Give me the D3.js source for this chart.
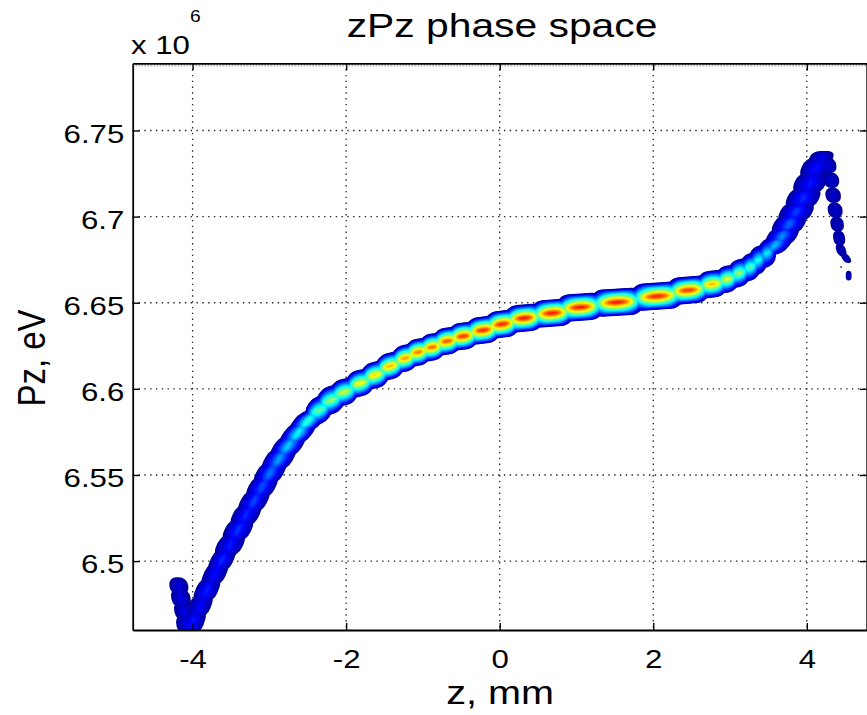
<!DOCTYPE html>
<html>
<head>
<meta charset="utf-8">
<script src="https://cdn.jsdelivr.net/npm/d3@7"></script>
<style>
  body { margin: 0; background: white; }
  text { font-family: "Liberation Sans", Arial, sans-serif; fill: black; }
</style>
</head>
<body>
<div id="canvas"></div>
<script>
"use strict"

/* DATA */
let xTicks = [-4, -2, 0, 2, 4];
let yTicks = [6.5, 6.55, 6.6, 6.65, 6.7, 6.75];
let yTickLabels = ["6.5", "6.55", "6.6", "6.65", "6.7", "6.75"];

// beam slices: z (mm), Pz (x10^6 eV), peak density (0..1 of colour map),
// half size in z (mm), half size in Pz (x10^6 eV), which piece of the beam
let sliceZ = [-4.087, -3.996, -3.905, -3.814, -3.709, -3.618, -3.514, -3.410, -3.306, -3.201,
  -3.097, -2.993, -2.876, -2.758, -2.628, -2.498, -2.354, -2.198, -2.029, -1.820,
  -1.625, -1.429, -1.234, -1.064, -0.882, -0.687, -0.478, -0.218, 0.030, 0.317,
  0.681, 1.046, 1.528, 2.050, 2.453, 2.766, 2.962, 3.118, 3.261, 3.366,
  3.483, 3.587, 3.678, 3.769, 3.861, 3.952, 4.043, 4.121, 4.186,
  4.278, 4.317, 4.343, 4.369, 4.395, 4.421, 4.447, 4.512,
  -4.179, -4.152, -4.113, -4.087, -4.061,
  4.545, 4.447];
let slicePz = [6.4541, 6.4646, 6.4739, 6.4832, 6.4925, 6.5006, 6.5093, 6.5180, 6.5267, 6.5348,
  6.5430, 6.5511, 6.5592, 6.5668, 6.5743, 6.5813, 6.5876, 6.5935, 6.5981, 6.6033,
  6.6080, 6.6132, 6.6178, 6.6213, 6.6242, 6.6277, 6.6306, 6.6341, 6.6376, 6.6411,
  6.6440, 6.6474, 6.6503, 6.6538, 6.6573, 6.6608, 6.6637, 6.6672, 6.6707, 6.6747,
  6.6788, 6.6834, 6.6886, 6.6956, 6.7026, 6.7107, 6.7194, 6.7281, 6.7339,
  6.7299, 6.7212, 6.7124, 6.7037, 6.6956, 6.6875, 6.6805, 6.6759,
  6.4855, 6.4785, 6.4710, 6.4634, 6.4553,
  6.6657, 6.6707];
let slicePeak = [0.14, 0.16, 0.14, 0.17, 0.15, 0.18, 0.16, 0.19, 0.18, 0.21,
  0.22, 0.26, 0.30, 0.35, 0.40, 0.45, 0.50, 0.55, 0.60, 0.65,
  0.68, 0.72, 0.75, 0.78, 0.80, 0.82, 0.85, 0.86, 0.87, 0.88,
  0.88, 0.88, 0.88, 0.87, 0.85, 0.72, 0.62, 0.55, 0.48, 0.42,
  0.38, 0.33, 0.28, 0.24, 0.20, 0.18, 0.16, 0.15, 0.12,
  0.10, 0.09, 0.08, 0.08, 0.07, 0.07, 0.06, 0.06,
  0.10, 0.11, 0.11, 0.11, 0.11,
  0.06, 0.05];
let sliceSz = [0.169, 0.169, 0.169, 0.169, 0.169, 0.169, 0.195, 0.195, 0.195, 0.195,
  0.195, 0.195, 0.200, 0.200, 0.200, 0.200, 0.182, 0.195, 0.195, 0.195,
  0.195, 0.195, 0.182, 0.182, 0.182, 0.195, 0.208, 0.235, 0.235, 0.261,
  0.287, 0.313, 0.352, 0.352, 0.287, 0.208, 0.156, 0.143, 0.130, 0.117,
  0.117, 0.200, 0.208, 0.221, 0.234, 0.234, 0.234, 0.221, 0.182,
  0.130, 0.130, 0.130, 0.124, 0.117, 0.104, 0.091, 0.078,
  0.150, 0.150, 0.150, 0.150, 0.150,
  0.046, 0.016];
let sliceSp = [0.0081, 0.0081, 0.0081, 0.0081, 0.0081, 0.0081, 0.0081, 0.0081, 0.0081, 0.0081,
  0.0081, 0.0081, 0.0081, 0.0075, 0.0075, 0.0070, 0.0087, 0.0087, 0.0081, 0.0081,
  0.0081, 0.0081, 0.0081, 0.0081, 0.0081, 0.0081, 0.0081, 0.0081, 0.0081, 0.0081,
  0.0081, 0.0081, 0.0081, 0.0081, 0.0081, 0.0081, 0.0081, 0.0084, 0.0084, 0.0087,
  0.0087, 0.0058, 0.0058, 0.0064, 0.0064, 0.0070, 0.0070, 0.0070, 0.0046,
  0.0052, 0.0052, 0.0052, 0.0052, 0.0052, 0.0052, 0.0046, 0.0035,
  0.0058, 0.0064, 0.0064, 0.0064, 0.0064,
  0.0041, 0.0007];
let slicePiece = ["main", "main", "main", "main", "main", "main", "main", "main", "main", "main",
  "main", "main", "main", "main", "main", "main", "main", "main", "main", "main",
  "main", "main", "main", "main", "main", "main", "main", "main", "main", "main",
  "main", "main", "main", "main", "main", "main", "main", "main", "main", "main",
  "main", "main", "main", "main", "main", "main", "main", "main", "main",
  "fall", "fall", "fall", "fall", "fall", "fall", "fall", "fall",
  "left", "left", "left", "left", "left",
  "blob", "dot"];

// jet colour map
let jetStops = [0, 0.125, 0.375, 0.625, 0.875, 1];
let jetColors = ["#00008f", "#0000ff", "#00ffff", "#ffff00", "#ff0000", "#800000"];


/* Configuration variables: drawing */
let svgWidth = 867;
let svgHeight = 715;

let plotLeft = 132.7;
let plotRight = 866.7;
let plotTop = 63.3;
let plotBottom = 630;

let textStretch = 1.2; // the picture's lettering is a bit wider than Arial
let flatShear = 0.4;   // slices lying along the band are nearly level
let steepShear = 0.8;
let alongPower = 0.5;  // shape of the density profile of a slice
let acrossPower = 0.9;
let cornerShare = 0.85; // outer contours are rounded blocks (stepped edge of binned density),
                        // inner contours turn into ellipses

let svg = d3.select("#canvas")
  .append("svg")
  .attr("width", svgWidth)
  .attr("height", svgHeight)
  .style("display", "block");

svg.append("rect")
  .attr("width", svgWidth)
  .attr("height", svgHeight)
  .attr("fill", "white");

// SCALES
let xScale = d3.scaleLinear()
  .domain([-4.78, 4.78])
  .range([plotLeft, plotRight]);

let yScale = d3.scaleLinear()
  .domain([6.46, 6.789])
  .range([plotBottom, plotTop]);

let jet = d3.scaleLinear()
  .domain(jetStops)
  .range(jetColors)
  .clamp(true);

svg.append("clipPath")
  .attr("id", "plotClip")
  .append("rect")
  .attr("x", plotLeft)
  .attr("y", plotTop)
  .attr("width", plotRight - plotLeft)
  .attr("height", plotBottom - plotTop);


// GRID (dotted)
let grid = svg.append("g");

grid.selectAll("line.vgrid")
  .data(xTicks)
  .join("line")
  .attr("class", "vgrid")
  .attr("x1", d => xScale(d))
  .attr("x2", d => xScale(d))
  .attr("y1", plotTop)
  .attr("y2", plotBottom)
  .attr("stroke", "#222")
  .attr("stroke-width", 1.3)
  .attr("stroke-dasharray", "1.4,4.4");

grid.selectAll("line.hgrid")
  .data(yTicks)
  .join("line")
  .attr("class", "hgrid")
  .attr("x1", plotLeft)
  .attr("x2", plotRight)
  .attr("y1", d => yScale(d))
  .attr("y2", d => yScale(d))
  .attr("stroke", "#222")
  .attr("stroke-width", 1.3)
  .attr("stroke-dasharray", "1.4,4.4");


// BEAM SLICES -> filled contour levels of the density
let slices = sliceZ.map(function (z, i) {
  return {
    piece: slicePiece[i],
    cx: xScale(z),
    cy: yScale(slicePz[i]),
    peak: slicePeak[i],
    a: xScale(z + sliceSz[i]) - xScale(z),
    b: yScale(slicePz[i]) - yScale(slicePz[i] + sliceSp[i])
  };
});

// local slope of the beam on screen, from the neighbours in the same piece
slices.forEach(function (s, i) {
  let prev = (i > 0 && slices[i - 1].piece == s.piece) ? slices[i - 1] : s;
  let next = (i < slices.length - 1 && slices[i + 1].piece == s.piece) ? slices[i + 1] : s;
  let k = 0;
  if (next.cx != prev.cx) {
    k = (next.cy - prev.cy) / (next.cx - prev.cx);
  }
  s.k = k;
  s.steep = Math.abs(k) > 1;
});

function halfW(s, t) {
  let f = 1 - t / s.peak;
  return s.a * Math.pow(f, s.steep ? acrossPower : alongPower);
}

function halfH(s, t) {
  let f = 1 - t / s.peak;
  return s.b * Math.pow(f, s.steep ? alongPower : acrossPower);
}

// corner radius: blocky outside, elliptic towards the core
function corner(s, t, half) {
  let m = Math.min(1, 1.6 * t / s.peak);
  let c = cornerShare * Math.min(halfW(s, t), halfH(s, t));
  return m * half + (1 - m) * c;
}

let levels = d3.range(0.02, 0.9, 0.025);

let beam = svg.append("g")
  .attr("clip-path", "url(#plotClip)");

levels.forEach(function (t) {
  beam.append("g")
    .selectAll("rect")
    .data(slices.filter(s => s.peak > t))
    .join("rect")
    .attr("x", s => -halfW(s, t))
    .attr("y", s => -halfH(s, t))
    .attr("width", s => 2 * halfW(s, t))
    .attr("height", s => 2 * halfH(s, t))
    .attr("rx", s => corner(s, t, halfW(s, t)))
    .attr("ry", s => corner(s, t, halfH(s, t)))
    .attr("transform", function (s) {
      if (s.steep) {
        return "matrix(1,0," + (steepShear / s.k) + ",1," + s.cx + "," + s.cy + ")";
      }
      return "matrix(1," + (flatShear * s.k) + ",0,1," + s.cx + "," + s.cy + ")";
    })
    .attr("fill", jet(t));
});


// AXES: MATLAB style box with inward ticks
let xAxisBottom = svg.append("g")
  .attr("transform", "translate(0," + plotBottom + ")")
  .call(d3.axisBottom(xScale).tickValues(xTicks).tickSizeInner(-7).tickSizeOuter(0).tickPadding(20)
    .tickFormat(d => String(d)));

let xAxisTop = svg.append("g")
  .attr("transform", "translate(0," + plotTop + ")")
  .call(d3.axisTop(xScale).tickValues(xTicks).tickSizeInner(-7).tickSizeOuter(0).tickFormat(""));

let yAxisLeft = svg.append("g")
  .attr("transform", "translate(" + plotLeft + ",0)")
  .call(d3.axisLeft(yScale).tickValues(yTicks).tickSizeInner(-7).tickSizeOuter(0).tickPadding(7)
    .tickFormat((d, i) => yTickLabels[i]));

let yAxisRight = svg.append("g")
  .attr("transform", "translate(" + plotRight + ",0)")
  .call(d3.axisRight(yScale).tickValues(yTicks).tickSizeInner(-7).tickSizeOuter(0).tickFormat(""));

svg.selectAll(".domain")
  .attr("stroke", "black")
  .attr("stroke-width", 1.8);

svg.selectAll(".tick line")
  .attr("stroke", "black")
  .attr("stroke-width", 1.4);

svg.selectAll(".tick text")
  .attr("fill", "black")
  .style("font-size", "26px")
  .style("font-family", "'Liberation Sans', Arial, sans-serif")
  .attr("transform", "scale(" + textStretch + ",1)");

yAxisLeft.selectAll(".tick text")
  .attr("dy", "0.45em");

// dotted edge just under the top of the box
svg.append("line")
  .attr("x1", plotLeft)
  .attr("x2", plotRight)
  .attr("y1", plotTop + 2.5)
  .attr("y2", plotTop + 2.5)
  .attr("stroke", "#555")
  .attr("stroke-width", 1)
  .attr("stroke-dasharray", "1,2");


/**** titles and labels ****/
svg.append("text")
  .attr("transform", "translate(502,37) scale(" + textStretch + ",1)")
  .attr("text-anchor", "middle")
  .style("font-size", "34px")
  .text("zPz phase space");

svg.append("text")
  .attr("transform", "translate(500,704) scale(" + textStretch + ",1)")
  .attr("text-anchor", "middle")
  .style("font-size", "33px")
  .text("z, mm");

svg.append("text")
  .attr("transform", "translate(45,358) rotate(-90) scale(1," + textStretch + ")")
  .attr("text-anchor", "middle")
  .style("font-size", "33px")
  .text("Pz, eV");

// exponent label
svg.append("text")
  .attr("transform", "translate(131,54) scale(" + textStretch + ",1)")
  .style("font-size", "26px")
  .text("x 10");

svg.append("text")
  .attr("transform", "translate(190,22) scale(" + textStretch + ",1)")
  .style("font-size", "16px")
  .text("6");

</script>
</body>
</html>
